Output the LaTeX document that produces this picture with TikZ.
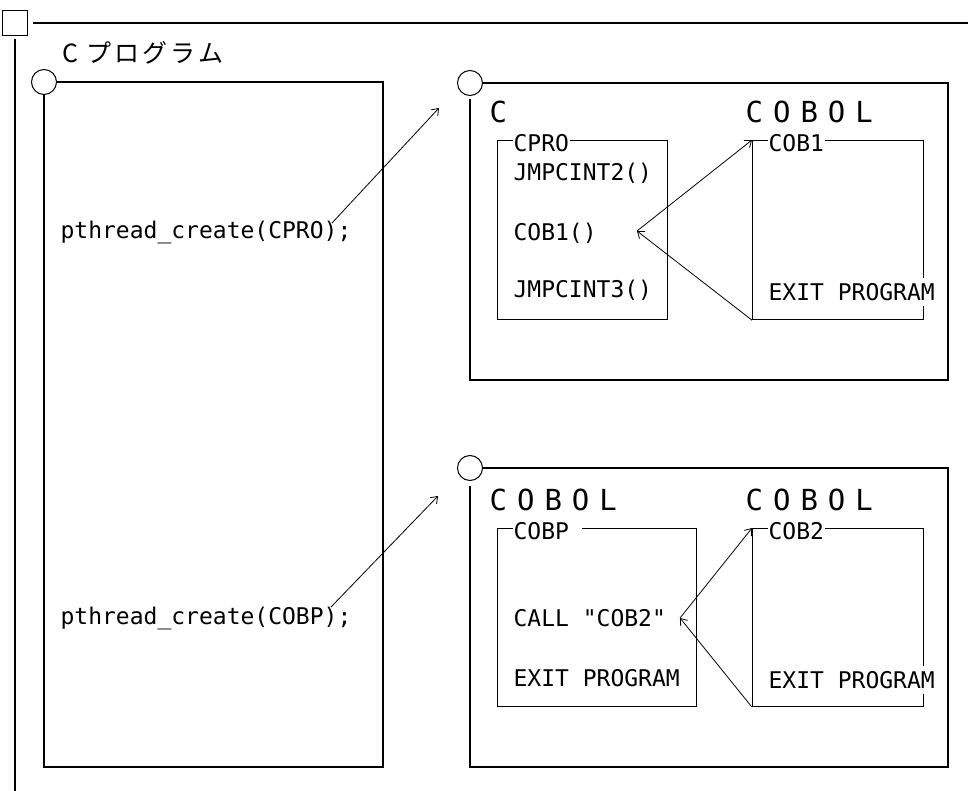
\documentclass[tikz,border=0pt]{standalone}
\usepackage{fontspec}
\usepackage{tikz}
\usetikzlibrary{positioning,arrows.meta}
\newfontfamily\codefont{DejaVu Sans Mono}
\newfontfamily\cjkfont{Noto Sans CJK JP}
\newcommand{\spacedCOBOL}{C\kern10pt O\kern10pt B\kern10pt O\kern10pt L}

\begin{document}
\begin{tikzpicture}[
    x=1pt, y=-1pt,
    line width=1.2pt,
    font=\codefont\fontsize{23}{27}\selectfont,
    >={Straight Barb[length=6pt,width=9pt,line width=0.8pt]},
    port/.style={circle, draw, minimum size=25pt, inner sep=0pt, line width=1pt, fill=white},
    prog/.style={rectangle, draw, anchor=north west, inner sep=0pt},
    code/.style={anchor=west, inner sep=1pt},
    head/.style={anchor=west, inner sep=0pt, font=\codefont\fontsize{29}{33}\selectfont},
    tag/.style={anchor=west, inner xsep=1pt, inner ysep=3pt, fill=white},
    call/.style={->, line width=0.8pt},
  ]
\useasboundingbox (0,0) rectangle (968,791);

% ===== Outer frame =====
\node[draw, minimum size=25pt, inner sep=0pt, line width=1pt] (frameSq) at (15,23) {};
\draw[shorten <=5pt] (frameSq.east) -- (968,23);
\draw[shorten <=3pt] (frameSq.south) -- (15,791);

% ===== C program =====
\node[anchor=west, inner sep=0pt, font=\cjkfont\fontsize{25}{29}\selectfont] (cprogHead) at (62,53)
  {C\kern8pt プ\kern3pt ロ\kern3pt グ\kern3pt ラ\kern3pt ム};
\node[port] (cprogPort) at (44,82) {};
\draw (cprogPort.east) -| (383,767) -| (cprogPort.south);

\node[code] (pcCpro) at (59,232) {pthread\_create(CPRO);};
\node[code] (pcCobp) at (59,618) {pthread\_create(COBP);};

% ===== Thread 1: C -> COBOL =====
\node[port] (thrAPort) at (470,83) {};
\draw (thrAPort.east) -| (948,380) -| (470,99);
\node[head] (cHead) at (489,112) {C};
\node[head] (cobHeadA) at (745,112) {\spacedCOBOL};

\node[prog, minimum width=170pt, minimum height=179pt] (cproBox) at (497,140) {};
\node[prog, minimum width=171pt, minimum height=179pt] (cob1Box) at (752,140) {};
\node[tag] (cproTag) at (512,143) {CPRO};
\node[tag] (cob1Tag) at (767,143) {COB1};

\node[code] (jmp2) at (512,173) {JMPCINT2()};
\node[code] (cob1Call) at (512,233) {COB1()};
\node[code] (jmp3) at (512,290) {JMPCINT3()};
\node[code, fill=white, inner ysep=5pt] (exit1) at (767,292) {EXIT PROGRAM};

% ===== Thread 2: COBOL -> COBOL =====
\node[port] (thrBPort) at (470,468) {};
\draw (thrBPort.east) -| (948,767) -| (470,486);
\node[head] (cobHeadB) at (489,500) {\spacedCOBOL};
\node[head] (cobHeadC) at (745,500) {\spacedCOBOL};

\node[prog, minimum width=199pt, minimum height=178pt] (cobpBox) at (497,528) {};
\node[prog, minimum width=171pt, minimum height=178pt] (cob2Box) at (752,528) {};
\node[tag] (cobpTag) at (512,531) {COBP\kern12pt};
\node[tag] (cob2Tag) at (767,531) {COB2};

\node[code] (callCob2) at (512,618) {CALL "COB2"};
\node[code] (exitP) at (512,678) {EXIT PROGRAM};
\node[code, fill=white, inner ysep=5pt] (exit2) at (767,680) {EXIT PROGRAM};

% Arrows
\coordinate (pcCproEnd) at (332,223);
\coordinate (thrAIn) at (439,108);
\coordinate (pcCobpEnd) at (331,607);
\coordinate (thrBIn) at (438,496);
\coordinate (cob1Ret) at (637,231);
\coordinate (cob2Ret) at (680,618);

\draw[call] (pcCproEnd) -- (thrAIn);
\draw[call] (pcCobpEnd) -- (thrBIn);
\draw[call] (cob1Ret) -- (cob1Box.north west);
\draw[call] (cob1Box.south west) -- (cob1Ret);
\draw[call] (cob2Ret) -- (cob2Box.north west);
\draw[call] (cob2Box.south west) -- (cob2Ret);

\end{tikzpicture}
\end{document}
